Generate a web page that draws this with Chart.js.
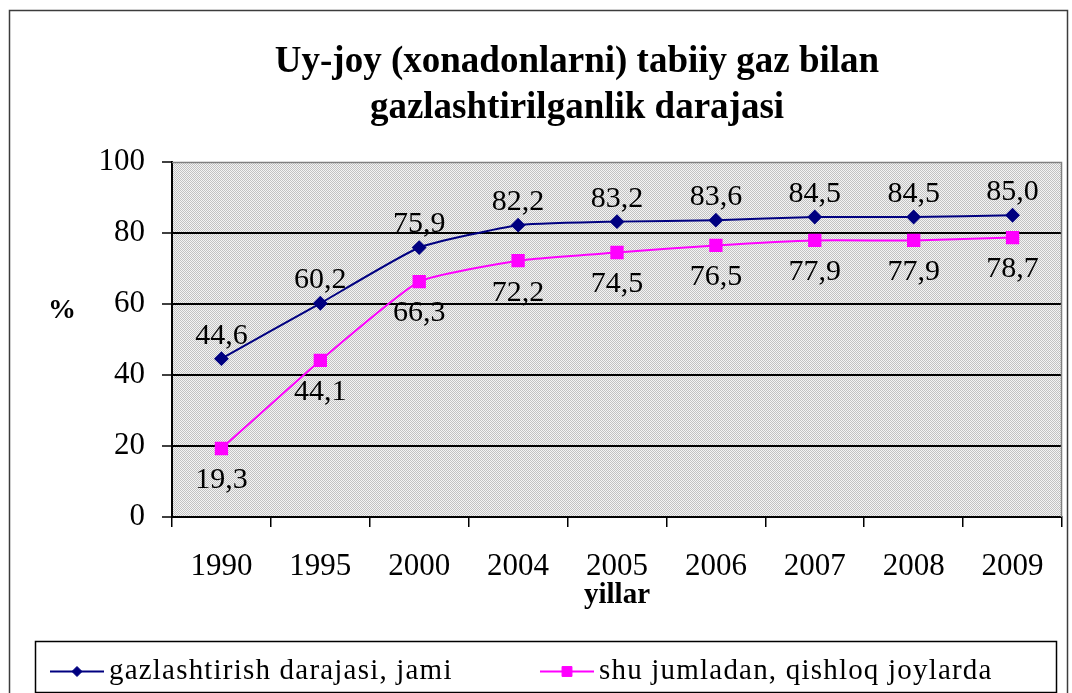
<!DOCTYPE html>
<html>
<head>
<meta charset="utf-8">
<script src="https://cdn.jsdelivr.net/npm/chart.js@4.4.0/dist/chart.umd.min.js"></script>
<style>
  html, body { margin: 0; padding: 0; background: #fff; }
  canvas { display: block; }
</style>
</head>
<body>
<canvas id="gasChart" width="1072" height="693"></canvas>
<script>
const years = ['1990', '1995', '2000', '2004', '2005', '2006', '2007', '2008', '2009'];
const totalLevel = [44.6, 60.2, 75.9, 82.2, 83.2, 83.6, 84.5, 84.5, 85.0];
const ruralLevel = [19.3, 44.1, 66.3, 72.2, 74.5, 76.5, 77.9, 77.9, 78.7];
const yTicks = [0, 20, 40, 60, 80, 100];
const seriesNames = ['gazlashtirish darajasi, jami', 'shu jumladan, qishloq joylarda'];
const titleLines = ['Uy-joy (xonadonlarni) tabiiy gaz bilan', 'gazlashtirilganlik darajasi'];

const serif = "'Liberation Serif', 'Times New Roman', serif";

function fmt(v) {
    return v.toFixed(1).replace('.', ',');
}

// gray dotted fill like the old Excel plot area
function makePattern(ctx) {
    const c = document.createElement('canvas');
    c.width = 2;
    c.height = 2;
    const p = c.getContext('2d');
    p.fillStyle = '#f4f4f4';
    p.fillRect(0, 0, 2, 2);
    p.fillStyle = '#c2c2c2';
    p.fillRect(0, 0, 1, 1);
    p.fillRect(1, 1, 1, 1);
    return ctx.createPattern(c, 'repeat');
}

const frame = {
    id: 'frame',
    beforeDraw(chart) {
        const { ctx, chartArea: a } = chart;
        ctx.save();
        ctx.fillStyle = '#fff';
        ctx.fillRect(0, 0, chart.width, chart.height);
        // outer border
        ctx.strokeStyle = '#3c3c3c';
        ctx.lineWidth = 1.5;
        ctx.strokeRect(9.5, 10.5, chart.width - 14, chart.height + 20);
        // plot area
        ctx.fillStyle = makePattern(ctx);
        ctx.fillRect(a.left, a.top, a.right - a.left, a.bottom - a.top);
        ctx.restore();
    },
    beforeDatasetsDraw(chart) {
        const { ctx, chartArea: a } = chart;
        ctx.save();
        ctx.strokeStyle = '#808080';
        ctx.lineWidth = 1.5;
        ctx.beginPath();
        ctx.moveTo(a.left, a.top + 0.5);
        ctx.lineTo(a.right - 0.5, a.top + 0.5);
        ctx.lineTo(a.right - 0.5, a.bottom);
        ctx.stroke();
        // "%" caption, not rotated
        ctx.fillStyle = '#000';
        ctx.font = 'bold 28px ' + serif;
        ctx.textAlign = 'center';
        ctx.textBaseline = 'middle';
        ctx.fillText('%', 62, a.top + (a.bottom - a.top) * 0.42);
        ctx.restore();
    }
};

// values above (total) / below (rural) the points
const valueLabels = {
    id: 'valueLabels',
    afterDatasetsDraw(chart) {
        const ctx = chart.ctx;
        ctx.save();
        ctx.font = '30px ' + serif;
        ctx.fillStyle = '#000';
        ctx.textAlign = 'center';
        ctx.textBaseline = 'middle';
        chart.data.datasets.forEach((ds, i) => {
            const shift = i === 0 ? -23 : 32;
            chart.getDatasetMeta(i).data.forEach((pt, j) => {
                ctx.fillText(fmt(ds.data[j]), pt.x, pt.y + shift);
            });
        });
        ctx.restore();
    }
};

// boxed legend at the bottom, line + marker samples
const boxLegend = {
    id: 'boxLegend',
    afterDraw(chart, args, opts) {
        const ctx = chart.ctx;
        const [left, top, right, bottom] = opts.box;
        const cy = (top + bottom) / 2 + 5;
        ctx.save();
        ctx.strokeStyle = '#000';
        ctx.lineWidth = 1.5;
        ctx.strokeRect(left + 0.5, top + 0.5, right - left, bottom - top);
        ctx.font = '29px ' + serif;
        ctx.letterSpacing = '1.2px';
        ctx.textBaseline = 'middle';
        ctx.textAlign = 'left';
        chart.data.datasets.forEach((ds, i) => {
            const x = opts.starts[i];
            ctx.strokeStyle = ds.borderColor;
            ctx.lineWidth = ds.borderWidth;
            ctx.beginPath();
            ctx.moveTo(x, cy);
            ctx.lineTo(x + 54, cy);
            ctx.stroke();
            ctx.fillStyle = ds.pointBackgroundColor;
            ctx.strokeStyle = ds.pointBorderColor;
            ctx.lineWidth = 1;
            Chart.helpers.drawPoint(ctx, { pointStyle: ds.pointStyle, radius: ds.pointRadius - 1, borderWidth: 1, rotation: 0 }, x + 27, cy);
            ctx.fillStyle = '#000';
            ctx.fillText(ds.label, x + 59, cy);
        });
        ctx.restore();
    }
};

new Chart(document.getElementById('gasChart'), {
    type: 'line',
    data: {
        labels: years,
        datasets: [
            {
                label: seriesNames[0],
                data: totalLevel,
                borderColor: '#000080',
                backgroundColor: '#000080',
                pointBackgroundColor: '#000080',
                pointBorderColor: '#000080',
                borderWidth: 2,
                pointStyle: 'rectRot',
                pointRadius: 6,
                pointHoverRadius: 6,
                tension: 0.15
            },
            {
                label: seriesNames[1],
                data: ruralLevel,
                borderColor: '#ff00ff',
                backgroundColor: '#ff00ff',
                pointBackgroundColor: '#ff00ff',
                pointBorderColor: '#ff00ff',
                borderWidth: 2,
                pointStyle: 'rect',
                pointRadius: 8,
                pointHoverRadius: 8,
                tension: 0.15
            }
        ]
    },
    options: {
        responsive: false,
        animation: false,
        layout: { padding: { left: 91, right: 9, top: 0, bottom: 81 } },
        plugins: {
            legend: { display: false },
            tooltip: { enabled: false },
            title: {
                display: true,
                text: titleLines,
                color: '#000',
                font: { family: serif, size: 37, weight: 'bold', lineHeight: 1.243 },
                padding: { top: 39, bottom: 31 }
            },
            boxLegend: { box: [35, 641, 1056, 692], starts: [50, 540] }
        },
        scales: {
            x: {
                offset: true,
                afterFit: s => { s.height = 95; },
                grid: { display: true, drawOnChartArea: false, drawTicks: true, tickLength: 10, color: '#000', lineWidth: 1.5, offset: true },
                border: { display: true, color: '#000', width: 2 },
                ticks: { color: '#000', font: { family: serif, size: 31 }, padding: 21, maxRotation: 0, autoSkip: false },
                title: { display: true, text: 'yillar', color: '#000', font: { family: serif, size: 29, weight: 'bold', lineHeight: 1 }, padding: { top: 0, bottom: 2 } }
            },
            y: {
                min: 0,
                max: 100,
                afterBuildTicks: s => { s.ticks = yTicks.map(v => ({ value: v })); },
                afterFit: s => { s.width = 81; },
                grid: {
                    color: c => (c.tick && c.tick.value === 100) ? 'rgba(0,0,0,0)' : '#000',
                    lineWidth: 2,
                    tickLength: 10,
                    tickColor: '#000',
                    tickWidth: 1.5
                },
                border: { color: '#000', width: 2 },
                ticks: { color: '#000', font: { family: serif, size: 31 }, padding: 17 }
            }
        }
    },
    plugins: [frame, valueLabels, boxLegend]
});
</script>
</body>
</html>
